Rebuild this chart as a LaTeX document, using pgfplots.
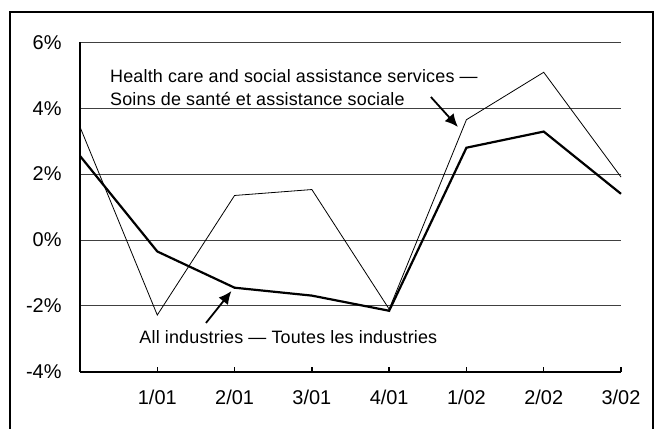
\documentclass[border=0pt]{standalone}
\usepackage{fontspec}
\setmainfont{Liberation Sans}
\newfontfamily\annot[LetterSpace=1]{Liberation Sans}
\usepackage{pgfplots}
\pgfplotsset{compat=1.18}
\usetikzlibrary{arrows.meta}
\begin{document}
\begin{tikzpicture}[x=1bp,y=1bp]
\useasboundingbox (0,0) rectangle (662,428);
\draw[line width=1.8bp] (10,-10) -- (10,415.7) -- (652.7,415.7) -- (652.7,-10);
\begin{axis}[
  at={(80bp,56.3bp)}, anchor=south west,
  scale only axis, width=541bp, height=329.4bp,
  xmin=0, xmax=7, ymin=-4, ymax=6,
  axis x line=bottom, axis y line=left,
  axis line style={-, line width=1.6bp},
  xtick={1,...,7},
  xticklabels={1/01,2/01,3/01,4/01,1/02,2/02,3/02},
  ytick={-4,-2,0,2,4,6},
  yticklabels={-4\%,-2\%,0\%,2\%,4\%,6\%},
  ymajorgrids, grid style={line width=0.8bp, black!75},
  xtick style={line width=1.4bp, black},
  ytick style={draw=none},
  tick align=inside, major tick length=5bp,
  ticklabel style={font=\fontsize{20}{24}\selectfont},
  xticklabel style={yshift=-15bp},
  yticklabel style={xshift=-15bp},
  /pgf/number format/assume math mode=true,
  clip=false,
]
\addplot[black, line width=0.8bp] coordinates {
 (0,3.43) (1,-2.28) (2,1.35) (3,1.53) (4,-2.10) (5,3.65) (6,5.09) (7,1.91)};
\addplot[black, line width=2.2bp] coordinates {
 (0,2.55) (1,-0.35) (2,-1.45) (3,-1.69) (4,-2.15) (5,2.80) (6,3.29) (7,1.40)};
\node[anchor=base west, inner sep=0, font=\annot\fontsize{18}{21}\selectfont] at (axis cs:0.388,4.78) {Health care and social assistance services —};
\node[anchor=base west, inner sep=0, font=\annot\fontsize{18}{21}\selectfont] at (axis cs:0.388,4.08) {Soins de santé et assistance sociale};
\node[anchor=base west, inner sep=0, font=\annot\fontsize{18}{21}\selectfont] at (axis cs:0.767,-3.136) {All industries — Toutes les industries};
\draw[-{Latex[length=13bp,width=12bp]}, line width=1.8bp] (axis cs:4.54,4.34) -- (axis cs:4.89,3.43);
\draw[-{Latex[length=13bp,width=12bp]}, line width=1.8bp] (axis cs:1.63,-2.52) -- (axis cs:1.96,-1.55);
\end{axis}
\end{tikzpicture}
\end{document}
